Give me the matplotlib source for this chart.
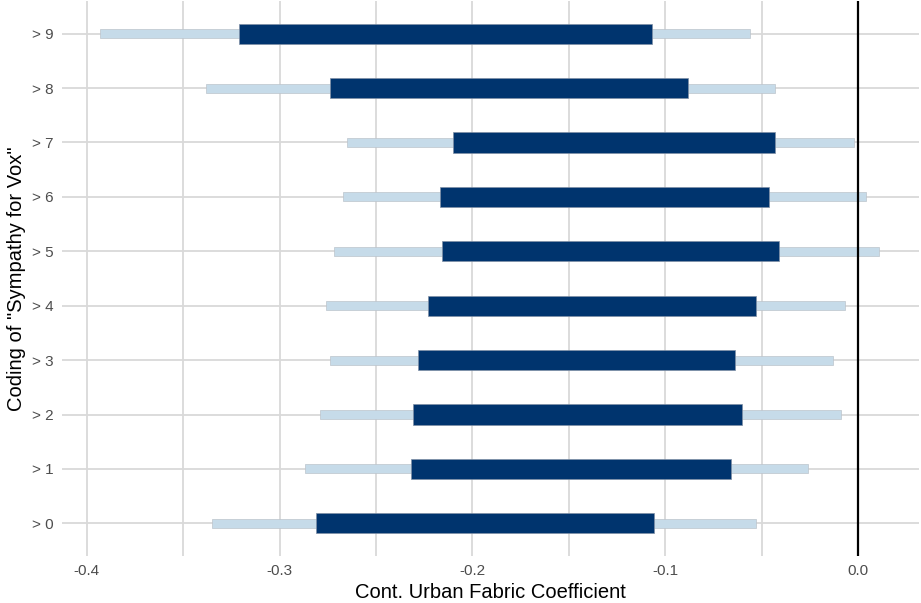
import matplotlib.pyplot as plt
from matplotlib.ticker import MultipleLocator

plt.rcParams['font.family'] = ['Liberation Sans', 'DejaVu Sans']

labels = ['> 0', '> 1', '> 2', '> 3', '> 4', '> 5', '> 6', '> 7', '> 8', '> 9']
outer_lo = [-0.335, -0.287, -0.279, -0.274, -0.276, -0.272, -0.267, -0.265, -0.338, -0.393]
outer_hi = [-0.053, -0.026, -0.009, -0.013, -0.007, 0.011, 0.004, -0.002, -0.043, -0.056]
inner_lo = [-0.281, -0.232, -0.231, -0.228, -0.223, -0.216, -0.217, -0.210, -0.274, -0.321]
inner_hi = [-0.106, -0.066, -0.060, -0.064, -0.053, -0.041, -0.046, -0.043, -0.088, -0.107]

fig = plt.figure(figsize=(9.21, 6.03), dpi=100)
ax = fig.add_axes([62 / 921, 47 / 603, 857 / 921, 555 / 603])

y = list(range(len(labels)))
ax.barh(y, [h - l for l, h in zip(outer_lo, outer_hi)], left=outer_lo, height=0.165,
        color='#c6dbe9', edgecolor='#bcc4cc', linewidth=0.5, zorder=3)
ax.barh(y, [h - l for l, h in zip(inner_lo, inner_hi)], left=inner_lo, height=0.37,
        color='#00346e', edgecolor='#7f8fa6', linewidth=0.5, zorder=4)
ax.axvline(0, color='black', linewidth=1.6, zorder=5)

ax.set_xlim(-0.4129, 0.0316)
ax.set_ylim(-0.6, 9.6)
ax.set_yticks(y)
ax.set_yticklabels(labels)
ax.xaxis.set_minor_locator(MultipleLocator(0.05))
ax.set_xticks([-0.4, -0.3, -0.2, -0.1, 0.0])
ax.set_xticklabels(['-0.4', '-0.3', '-0.2', '-0.1', '0.0'])

ax.grid(True, which='both', axis='x', color='#d9d9d9', linewidth=1.3, zorder=0)
ax.grid(True, which='major', axis='y', color='#d9d9d9', linewidth=1.3, zorder=0)
ax.tick_params(which='both', length=0, labelsize=11, labelcolor='#4d4d4d', pad=6)
for s in ax.spines.values():
    s.set_visible(False)

ax.set_xlabel('Cont. Urban Fabric Coefficient', fontsize=14.5, labelpad=3)
ax.set_ylabel('Coding of "Sympathy for Vox"', fontsize=14.5, labelpad=4)

fig.savefig('out.png', dpi=100)
